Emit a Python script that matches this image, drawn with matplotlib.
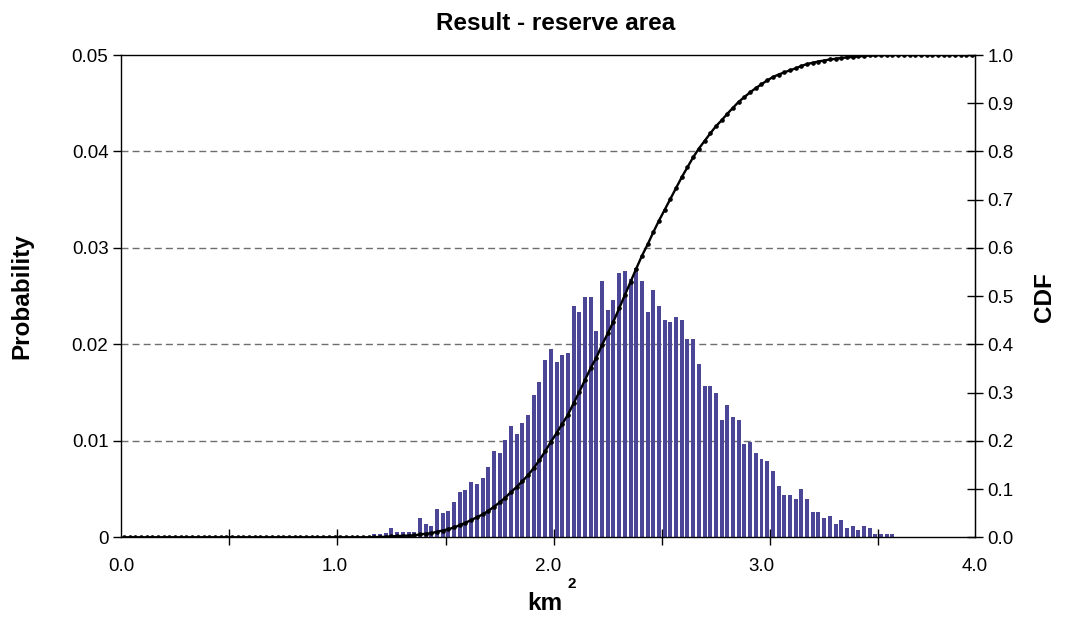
import numpy as np
import matplotlib
matplotlib.use("Agg")
import matplotlib.pyplot as plt
from matplotlib.ticker import FixedLocator, FixedFormatter

plt.rcParams['font.family'] = ['Liberation Sans', 'DejaVu Sans']

# Histogram of simulated reserve area: 150 equal bins over 0-4 km2
x_min, x_max = 0.0, 4.0
n_bins = 150
first_bin = 44  # index of the first non-empty bin
probability = [
    0.0003, 0.0003, 0.0004, 0.0010, 0.0005, 0.0005, 0.0005, 0.0005,
    0.0020, 0.0014, 0.0012, 0.0029, 0.0025, 0.0027, 0.0037, 0.0047,
    0.0049, 0.0057, 0.0055, 0.0061, 0.0073, 0.0089, 0.0087, 0.0101,
    0.0115, 0.0107, 0.0118, 0.0127, 0.0148, 0.0161, 0.0184, 0.0195,
    0.0182, 0.0189, 0.0191, 0.0240, 0.0234, 0.0249, 0.0249, 0.0214,
    0.0266, 0.0236, 0.0246, 0.0274, 0.0276, 0.0268, 0.0279, 0.0266,
    0.0234, 0.0256, 0.0240, 0.0225, 0.0223, 0.0228, 0.0225, 0.0206,
    0.0206, 0.0180, 0.0157, 0.0157, 0.0150, 0.0122, 0.0137, 0.0125,
    0.0122, 0.0097, 0.0099, 0.0087, 0.0081, 0.0079, 0.0069, 0.0053,
    0.0044, 0.0044, 0.0040, 0.0050, 0.0040, 0.0026, 0.0026, 0.0020,
    0.0022, 0.0014, 0.0018, 0.0010, 0.0012, 0.0008, 0.0012, 0.0010,
    0.0003, 0.0003, 0.0003, 0.0003,
]

prob_ticks = [0, 0.01, 0.02, 0.03, 0.04, 0.05]
prob_labels = ['0', '0.01', '0.02', '0.03', '0.04', '0.05']
cdf_ticks = [0.0, 0.1, 0.2, 0.3, 0.4, 0.5, 0.6, 0.7, 0.8, 0.9, 1.0]
x_ticks = [0.0, 1.0, 2.0, 3.0, 4.0]
bins_per_tick = 19

bar_color = '#4b4796'
tick_fs = 13.5
label_fs = 17.5

edges = np.linspace(x_min, x_max, n_bins + 1)
centers = 0.5 * (edges[:-1] + edges[1:])
bin_w = edges[1] - edges[0]
p_full = np.zeros(n_bins)
p_full[first_bin:first_bin + len(probability)] = probability
cdf = np.cumsum(p_full)

W, H = 1075, 620
fig = plt.figure(figsize=(W / 100, H / 100), dpi=100)
left, right, top, bottom = 121, 975, 55, 537.3
ax = fig.add_axes([left / W, 1 - bottom / H, (right - left) / W, (bottom - top) / H])

ax.bar(centers[first_bin:first_bin + len(probability)], probability,
       width=bin_w * 0.7, color=bar_color, zorder=2, linewidth=0)
ax.set_xlim(x_min, x_max)
ax.set_ylim(0, 0.05)

for y in prob_ticks[1:-1]:
    ax.axhline(y, color='#6e6e6e', lw=1.0, ls=(0, (5, 3)), zorder=1)

ax.yaxis.set_major_locator(FixedLocator(prob_ticks))
ax.yaxis.set_major_formatter(FixedFormatter(prob_labels))
ax.tick_params(axis='y', direction='out', length=6, width=1, labelsize=tick_fs, pad=3)

ax.xaxis.set_major_locator(FixedLocator(x_ticks))
ax.xaxis.set_major_formatter(FixedFormatter([f'{v:.1f}' for v in x_ticks]))
ax.xaxis.set_minor_locator(FixedLocator(
    [k * bins_per_tick * bin_w for k in range(1, n_bins // bins_per_tick + 1)]))
ax.tick_params(axis='x', which='major', length=0, labelsize=tick_fs, pad=15)
ax.tick_params(axis='x', which='minor', direction='inout', length=11.5, width=1)

for s in ax.spines.values():
    s.set_linewidth(1.0)
    s.set_color('black')

ax2 = ax.twinx()
ax2.set_ylim(0, 1.0)
ax2.plot(centers, cdf, color='black', lw=1.7, zorder=3)
ax2.plot(centers, cdf, ls='none', marker='o', ms=2.3, color='black', zorder=4)
ax2.yaxis.set_major_locator(FixedLocator(cdf_ticks))
ax2.yaxis.set_major_formatter(FixedFormatter([f'{v:.1f}' for v in cdf_ticks]))
ax2.tick_params(axis='y', direction='inout', length=11.5, width=1, labelsize=tick_fs, pad=3)
for s in ax2.spines.values():
    s.set_visible(False)
ax2.spines['right'].set_visible(True)
ax2.spines['right'].set_color('black')

fig.text(556 / W, 1 - 23 / H, 'Result - reserve area', ha='center', va='center',
         fontsize=label_fs, fontweight='bold')
fig.text(22 / W, 1 - 296 / H, 'Probability', ha='center', va='center',
         rotation=90, fontsize=label_fs, fontweight='bold')
fig.text(1045 / W, 1 - 297 / H, 'CDF', ha='center', va='center',
         rotation=90, fontsize=label_fs, fontweight='bold')
fig.text(545 / W, 1 - 604 / H, 'km', ha='center', va='center',
         fontsize=label_fs, fontweight='bold')
fig.text(572 / W, 1 - 584 / H, '2', ha='center', va='center',
         fontsize=11, fontweight='bold')

fig.savefig('out.png', dpi=100)
